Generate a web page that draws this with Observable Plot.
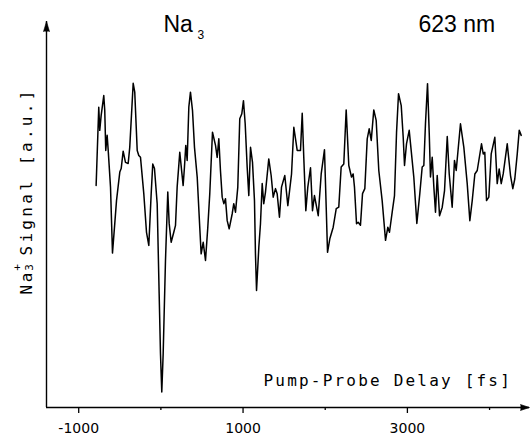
<!DOCTYPE html>
<html><head><meta charset="utf-8">
<style>body{margin:0;background:#fff}</style>
<script src="https://cdn.jsdelivr.net/npm/d3@7"></script>
<script src="https://cdn.jsdelivr.net/npm/@observablehq/plot@0.6"></script>
</head><body><div id="chart"></div>
<script>
// Pump-probe delay (fs) and Na3+ signal (a.u.)
const delay = [-788,-756,-744,-727,-695,-683,-671,-654,-641,-613,-589,-561,-540,-500,-483,-459,-431,-398,-379,-337,-318,-288,-269,-248,-208,-175,-147,-118,-99,-78,-45,-21,-5,11,28,56,84,101,125,157,178,198,230,271,287,303,320,340,360,385,409,442,473,490,515,543,571,595,628,665,685,705,725,746,766,786,807,831,868,887,908,936,960,985,1005,1026,1050,1070,1091,1115,1139,1151,1164,1192,1212,1233,1252,1273,1313,1342,1367,1395,1415,1443,1468,1508,1545,1590,1618,1659,1699,1720,1739,1764,1788,1821,1845,1869,1915,1951,1991,2012,2028,2056,2097,2134,2165,2194,2226,2255,2287,2320,2340,2356,2381,2401,2429,2454,2482,2511,2535,2560,2591,2620,2652,2693,2734,2762,2782,2815,2843,2868,2892,2925,2949,2965,2989,3022,3046,3078,3115,3151,3180,3200,3220,3245,3266,3281,3302,3322,3342,3363,3391,3424,3452,3485,3509,3545,3573,3594,3646,3687,3728,3760,3789,3821,3850,3902,3923,3942,3963,3991,4020,4064,4093,4117,4142,4166,4215,4255,4283,4307,4337,4361,4385];
const signal = [5.75,7.78,7.18,7.56,8.08,7.69,6.66,7.05,6.66,5.71,4.00,4.77,5.36,6.10,6.19,6.64,6.35,6.32,6.74,8.40,8.17,6.66,6.53,6.48,5.54,4.54,4.20,5.54,6.31,6.19,5.28,2.95,1.40,0.40,1.40,3.81,5.58,4.77,4.28,4.54,4.72,5.71,6.61,5.75,6.23,6.79,6.40,7.78,8.17,7.69,6.74,5.97,4.67,3.98,4.28,3.81,4.67,5.54,7.13,6.79,6.48,6.96,6.14,5.45,5.28,5.41,4.84,4.63,5.02,5.28,5.06,5.71,7.48,7.61,7.95,7.35,6.23,5.49,6.74,6.35,5.36,3.98,3.03,4.15,4.76,5.80,5.28,5.58,6.44,6.01,5.45,5.67,5.54,4.93,5.71,6.01,5.23,6.05,7.26,6.66,6.66,7.62,6.48,5.10,5.71,6.21,5.10,5.49,4.97,6.05,6.68,5.19,4.02,4.37,4.67,5.15,5.19,6.23,6.31,7.71,6.27,5.97,6.05,5.71,4.76,4.80,4.72,5.54,5.67,6.96,7.22,6.92,7.71,7.44,6.14,5.36,4.33,4.67,4.54,5.06,5.49,7.13,8.13,7.82,7.00,6.27,6.83,7.18,6.66,5.97,4.77,5.54,6.23,6.27,7.35,8.39,7.09,5.97,6.48,5.71,5.06,6.01,4.97,5.19,5.62,7.02,6.05,5.19,6.40,6.14,7.35,6.74,5.80,4.84,5.36,6.05,6.14,6.83,6.57,6.61,5.36,5.45,6.57,7.00,5.80,6.18,5.80,6.05,6.83,6.01,5.67,5.92,6.57,7.18,7.05];
const xDomain = [-1392, 4486];
const yDomain = [0, 10];
const majorTicks = [-1000, 1000, 3000];
const minorTicks = [0, 2000, 4000];
const titleText = ["Na"];
const titleSub = ["3"];
const wavelength = ["623 nm"];
const xLabel = ["Pump-Probe Delay [fs]"];
const yLabelNa = ["Na"];
const yLabelSup = ["+"];
const yLabelSub = ["3"];
const yLabelRest = ["Signal [a.u.]"];

const data = delay.map((d, i) => ({d, s: signal[i]})).filter(p => p.s !== undefined);
const T = d => d;

const chart = Plot.plot({
  width: 531, height: 437,
  marginLeft: 46, marginRight: 2, marginTop: 21, marginBottom: 30,
  style: {background: "white", color: "black"},
  x: {domain: xDomain},
  y: {domain: yDomain, axis: null},
  marks: [
    Plot.ruleY([yDomain[0]], {x1: xDomain[0], x2: xDomain[1], strokeWidth: 1.4}),
    Plot.ruleX([xDomain[0]], {y1: yDomain[0], y2: yDomain[1], strokeWidth: 1.4}),
    Plot.vector([{x: xDomain[0], y: yDomain[1]}], {x: "x", y: "y", length: 10, rotate: 0, anchor: "end", shape: "spike", r: 3, fill: "black", stroke: "black", strokeWidth: 0.6}),
    Plot.vector([{x: xDomain[1], y: yDomain[0]}], {x: "x", y: "y", length: 9, rotate: 90, anchor: "end", shape: "spike", r: 3, fill: "black", stroke: "black", strokeWidth: 0.6}),
    Plot.axisX({ticks: majorTicks, tickSize: 6, tickPadding: 10, tickFormat: d => String(d), fontSize: 14, fontFamily: "DejaVu Sans", strokeWidth: 1.3, label: null}),
    Plot.axisX({ticks: minorTicks, tickSize: 3, tickFormat: () => "", strokeWidth: 1.3, label: null}),
    Plot.line(data, {x: "d", y: "s", strokeWidth: 1.5, strokeLinejoin: "round"}),
    Plot.text(titleText, {text: T, frameAnchor: "top-left", dx: 117, dy: -6, textAnchor: "start", lineAnchor: "top", fontSize: 23, fontFamily: "Liberation Sans"}),
    Plot.text(titleSub, {text: T, frameAnchor: "top-left", dx: 151, dy: 9, textAnchor: "start", lineAnchor: "top", fontSize: 12, fontFamily: "Liberation Sans"}),
    Plot.text(wavelength, {text: T, frameAnchor: "top-left", dx: 372, dy: -6, textAnchor: "start", lineAnchor: "top", fontSize: 23, fontFamily: "Liberation Sans"}),
    Plot.text(xLabel, {text: T, frameAnchor: "bottom-left", dx: 217, dy: -33, textAnchor: "start", lineAnchor: "top", fontSize: 16, fontFamily: "DejaVu Sans Mono"}),
    Plot.text(yLabelNa, {text: T, frameAnchor: "top-left", dx: -20, dy: 273, rotate: -90, textAnchor: "start", lineAnchor: "middle", fontSize: 16, fontFamily: "DejaVu Sans Mono"}),
    Plot.text(yLabelSup, {text: T, frameAnchor: "top-left", dx: -29, dy: 246, rotate: -90, textAnchor: "middle", lineAnchor: "middle", fontSize: 11, fontFamily: "DejaVu Sans Mono"}),
    Plot.text(yLabelSub, {text: T, frameAnchor: "top-left", dx: -17, dy: 246, rotate: -90, textAnchor: "middle", lineAnchor: "middle", fontSize: 11, fontFamily: "DejaVu Sans Mono"}),
    Plot.text(yLabelRest, {text: T, frameAnchor: "top-left", dx: -20, dy: 234, rotate: -90, textAnchor: "start", lineAnchor: "middle", fontSize: 16, fontFamily: "DejaVu Sans Mono"})
  ]
});
const spacing = {"Na": "2.6px", "Signal [a.u.]": "3.3px", "Pump-Probe Delay [fs]": "2.2px"};
d3.select(chart).selectAll("text").each(function() {
  const g = this.closest("g[font-family]");
  if (g && g.getAttribute("font-family").includes("Mono") && spacing[this.textContent]) {
    this.style.letterSpacing = spacing[this.textContent];
  }
});
document.getElementById("chart").appendChild(chart);
</script>
</body></html>
